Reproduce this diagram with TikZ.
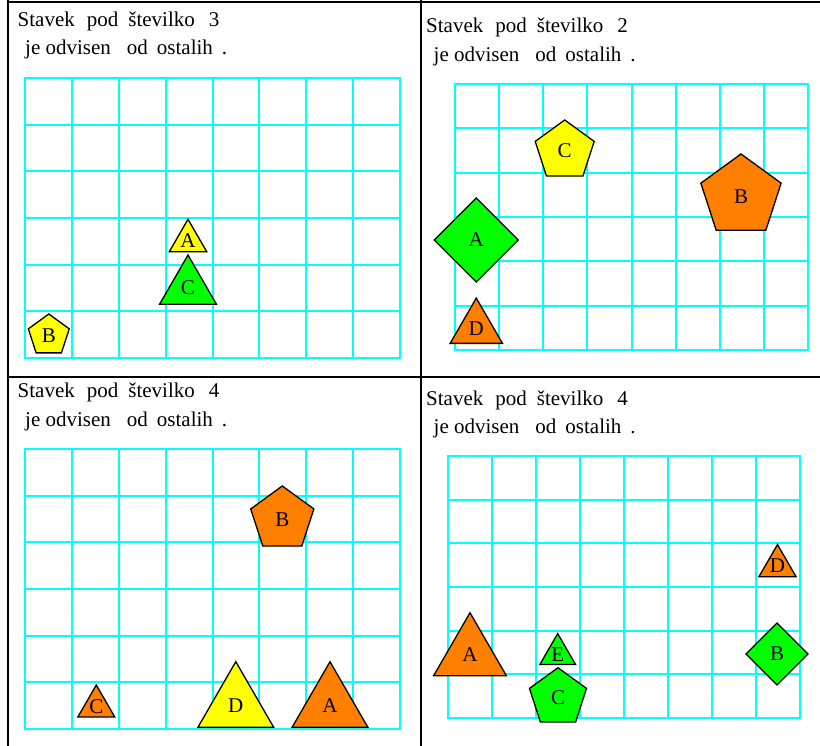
\documentclass[tikz,border=0pt]{standalone}
\usepackage{fontspec}
\setmainfont{Liberation Serif}
\usetikzlibrary{shapes.geometric}
\definecolor{gridcyan}{HTML}{00FFFF}
\definecolor{shyellow}{HTML}{FFFF00}
\definecolor{shgreen}{HTML}{00FF00}
\definecolor{shorange}{HTML}{FF8000}

\begin{document}
\begin{tikzpicture}[x=1pt, y=-1pt,
  gridline/.style={gridcyan, line width=2pt, line cap=rect},
  frameline/.style={black, line width=2pt},
  txt/.style={anchor=base west, inner sep=0pt, font=\fontsize{21}{25}\selectfont},
  fig/.style={regular polygon, draw=black, line width=1.3pt, inner sep=0pt, outer sep=0pt, fill=#1, font=\fontsize{21}{25}\selectfont},
  tri/.style={fig=#1, regular polygon sides=3},
  penta/.style={fig=#1, regular polygon sides=5},
  dia/.style={fig=#1, regular polygon sides=4, shape border rotate=45}
]
  \useasboundingbox (0,0) rectangle (820,746);

  % table
  \draw[frameline] (8,2) -- (822,2);
  \draw[frameline] (8,0) -- (8,748);
  \draw[frameline] (421,0) -- (421,748);
  \draw[frameline] (8,377) -- (822,377);

  % grids
  \foreach \gx/\gy/\gw/\gh in {25/78/375/280, 455/84/353/266, 25/449/375/280, 448/456/352/262} {
    \foreach \i in {0,...,8}
      \draw[gridline] ({round(\gx+\i*\gw/8)},\gy) -- ++(0,\gh);
    \foreach \j in {0,...,6}
      \draw[gridline] (\gx,{round(\gy+\j*\gh/6)}) -- ++(\gw,0);
  }

  % headers
  \foreach \hx/\hy/\n/\p in {17.5/26.5/3/1, 426/32.7/2/2, 17.5/397.7/4/3, 426/405.3/4/4} {
    \node[txt] (head\p) at (\hx,\hy) {Stavek\hspace{12pt}pod\hspace{10pt}številko\hspace{14pt}\n};
    \node[txt] (sub\p) at (\hx+7.5,\hy+28.5) {je odvisen\hspace{16pt}od\hspace{9pt}ostalih\hspace{9pt}.};
  }

  % panel 1
  \node[tri=shyellow, minimum size=43.2pt] (a1) at (188,240.9) {A};
  \node[tri=shgreen, minimum size=65.8pt] (c1) at (188,287.9) {C};
  \node[penta=shyellow, minimum size=43pt] (b1) at (48.8,335.5) {B};

  % panel 2
  \node[penta=shyellow, minimum size=62pt] (c2) at (564.7,151) {C};
  \node[penta=shorange, minimum size=84.4pt] (b2) at (741,196.2) {B};
  \node[dia=shgreen, minimum size=84pt] (a2) at (476.2,240) {A};
  \node[tri=shorange, minimum size=60.4pt] (d2) at (476.3,328.3) {D};

  % panel 3
  \node[penta=shorange, minimum size=66.4pt] (b3) at (282.3,519.2) {B};
  \node[tri=shorange, minimum size=42.6pt] (c3) at (96.3,706.3) {C};
  \node[tri=shyellow, minimum size=87.4pt] (d3) at (235.8,705.4) {D};
  \node[tri=shorange, minimum size=87.4pt] (a3) at (330,705.4) {A};

  % panel 4
  \node[tri=shorange, minimum size=38.6pt] (d4) at (777.5,566) {D};
  \node[tri=shorange, minimum size=84pt] (a4) at (470,654.7) {A};
  \node[tri=shgreen, minimum size=41.2pt] (e4) at (557.7,654.2) {E};
  \node[penta=shgreen, minimum size=60pt] (c4) at (558,697.7) {C};
  \node[dia=shgreen, minimum size=62pt] (b4) at (777,654) {B};
\end{tikzpicture}
\end{document}
